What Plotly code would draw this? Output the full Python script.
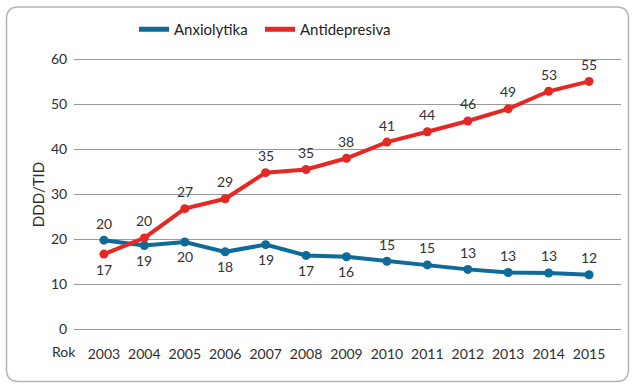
import plotly.graph_objects as go

years = [2003, 2004, 2005, 2006, 2007, 2008, 2009, 2010, 2011, 2012, 2013, 2014, 2015]
anxiolytika = [19.8, 18.6, 19.4, 17.2, 18.8, 16.4, 16.1, 15.1, 14.3, 13.3, 12.6, 12.5, 12.1]
antidepresiva = [16.7, 20.3, 26.8, 29.0, 34.8, 35.5, 38.0, 41.6, 43.9, 46.3, 49.0, 52.9, 55.1]
anx_labels = ["20", "19", "20", "18", "19", "17", "16", "15", "15", "13", "13", "13", "12"]
anti_labels = ["17", "20", "27", "29", "35", "35", "38", "41", "44", "46", "49", "53", "55"]
y_ticks = [0, 10, 20, 30, 40, 50, 60]

BLUE = "#0e6a98"
RED = "#e52823"
W, H = 637, 387
L, R, T, B = 74, 16, 58, 56
PW, PH = W - L - R, H - T - B

anx_side = [1, -1, -1, -1, -1, -1, -1, 1, 1, 1, 1, 1, 1]
anti_side = [-1] + [1] * 12

fig = go.Figure()
for name, vals, col, lg in [("Anxiolytika", anxiolytika, BLUE, "legend"),
                            ("Antidepresiva", antidepresiva, RED, "legend2")]:
    fig.add_trace(go.Scatter(x=years, y=vals, mode="lines+markers", name=name,
                             line=dict(color=col, width=4), marker=dict(color=col, size=9),
                             showlegend=False, hoverinfo="skip"))
    fig.add_trace(go.Scatter(x=[None], y=[None], mode="lines", name=name, legend=lg,
                             line=dict(color=col, width=5), showlegend=True))

ann = []
for vals, labs, sides in [(anxiolytika, anx_labels, anx_side), (antidepresiva, anti_labels, anti_side)]:
    for x, y, t, s in zip(years, vals, labs, sides):
        ann.append(dict(x=x, y=y, text=t, showarrow=False, xref="x", yref="y",
                        yshift=17 if s > 0 else -15,
                        font=dict(size=14, color="#333333")))

def px(x): return (x - L) / PW
def py(y): return (H - B - y) / PH

ann.append(dict(x=px(64), y=py(351), xref="paper", yref="paper", text="Rok",
                showarrow=False, xanchor="center", yanchor="middle",
                font=dict(size=14, color="#2e2e2e")))

# rounded border
x0, y0, x1, y1, r = 6.5, 7, 628.5, 381.5, 12
path = (f"M {px(x0+r)},{py(y0)} L {px(x1-r)},{py(y0)} Q {px(x1)},{py(y0)} {px(x1)},{py(y0+r)} "
        f"L {px(x1)},{py(y1-r)} Q {px(x1)},{py(y1)} {px(x1-r)},{py(y1)} "
        f"L {px(x0+r)},{py(y1)} Q {px(x0)},{py(y1)} {px(x0)},{py(y1-r)} "
        f"L {px(x0)},{py(y0+r)} Q {px(x0)},{py(y0)} {px(x0+r)},{py(y0)} Z")

legend_style = dict(orientation="h", xanchor="left", y=py(13), yanchor="top",
                    font=dict(size=15, family="Lato, sans-serif", color="#222"),
                    bgcolor="rgba(0,0,0,0)")

fig.update_layout(
    width=W, height=H, margin=dict(l=L, r=R, t=T, b=B),
    paper_bgcolor="white", plot_bgcolor="white",
    font=dict(family="Lato, Open Sans, sans-serif", size=14, color="#2e2e2e"),
    showlegend=True,
    legend=dict(x=px(134), **legend_style),
    legend2=dict(x=px(260), **legend_style),
    xaxis=dict(range=[2002.26, 2015.79], tickvals=years, ticktext=[str(y) for y in years],
               showgrid=False, zeroline=False, showline=False,
               ticks="outside", ticklen=10, tickcolor="rgba(0,0,0,0)",
               tickfont=dict(size=14, color="#2e2e2e")),
    yaxis=dict(range=[-0.4, 60.3], tickvals=y_ticks, showgrid=True, gridcolor="#9a9a9a", gridwidth=1,
               zeroline=False, showline=False, ticks="outside", ticklen=3, tickcolor="rgba(0,0,0,0)",
               tickfont=dict(size=14, color="#2e2e2e"),
               title=dict(text="DDD/TID", font=dict(size=15, color="#2e2e2e"), standoff=2)),
    annotations=ann,
    shapes=[dict(type="path", xref="paper", yref="paper", path=path,
                 line=dict(color="#b3b3b3", width=1.5), layer="below")],
)
fig.write_html("out.html", config={"displayModeBar": False},
               post_script="document.body.style.margin='0';")
